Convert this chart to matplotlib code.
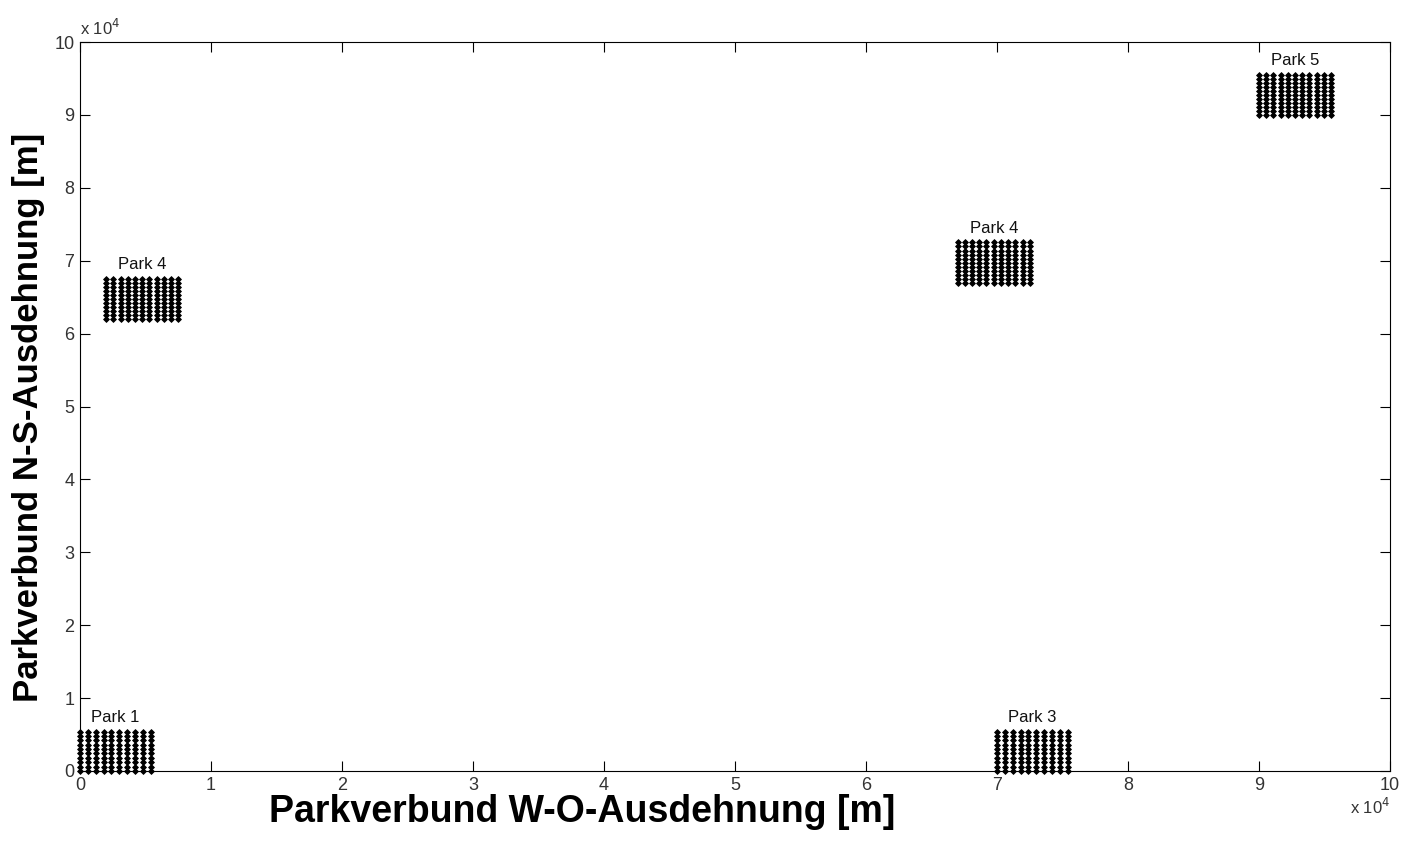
import numpy as np
import matplotlib.pyplot as plt

plt.rcParams['font.family'] = ['Liberation Sans', 'DejaVu Sans']

# park grids: name, x start, y start, columns, rows, spacing [m]
park_names = ['Park 1', 'Park 3', 'Park 4', 'Park 4', 'Park 5']
park_x0 = [0, 70000, 2000, 67000, 90000]
park_y0 = [0, 0, 62000, 67000, 90000]
park_nx = [10, 10, 11, 11, 11]
park_ny = [10, 10, 11, 11, 11]
park_dx = [600, 600, 550, 550, 550]
park_dy = [600, 600, 550, 550, 550]

ticks = np.arange(0, 11)

fig = plt.figure(figsize=(14.02, 8.49), dpi=100)
ax = fig.add_axes([0.0571, 0.0919, 0.9343, 0.8586])

for name, x0, y0, nx, ny, dx, dy in zip(park_names, park_x0, park_y0,
                                         park_nx, park_ny, park_dx, park_dy):
    xs = x0 + np.arange(nx) * dx
    ys = y0 + np.arange(ny) * dy
    X, Y = np.meshgrid(xs, ys)
    ax.plot(X.ravel(), Y.ravel(), 'kD', markersize=3.0, markeredgewidth=0.6,
            linestyle='none', clip_on=False)
    ax.text(xs.mean(), ys.max() + 900, name, ha='center', va='bottom',
            fontsize=12, color='#111111')

ax.set_xlim(0, 100000)
ax.set_ylim(0, 100000)
ax.set_xticks(ticks * 1e4)
ax.set_yticks(ticks * 1e4)
ax.set_xticklabels([str(t) for t in ticks], fontsize=13, color='#333333')
ax.set_yticklabels([str(t) for t in ticks], fontsize=13, color='#333333')
ax.tick_params(direction='in', top=True, right=True, length=7, pad=4)

ax.text(0, 1.005, r'x 10$^4$', transform=ax.transAxes, fontsize=12,
        color='#333333', ha='left', va='bottom')
ax.text(1.0, -0.035, r'x 10$^4$', transform=ax.transAxes, fontsize=12,
        color='#333333', ha='right', va='top')

ax.set_xlabel('Parkverbund W-O-Ausdehnung [m]', fontsize=27,
              fontweight='bold', labelpad=0)
ax.xaxis.set_label_coords(0.383, -0.032)
ax.xaxis.label.set_va('top')
ax.set_ylabel('Parkverbund N-S-Ausdehnung [m]', fontsize=25,
              fontweight='bold')
ax.yaxis.set_label_coords(-0.027, 0.485)

fig.savefig('out.png', dpi=100)
